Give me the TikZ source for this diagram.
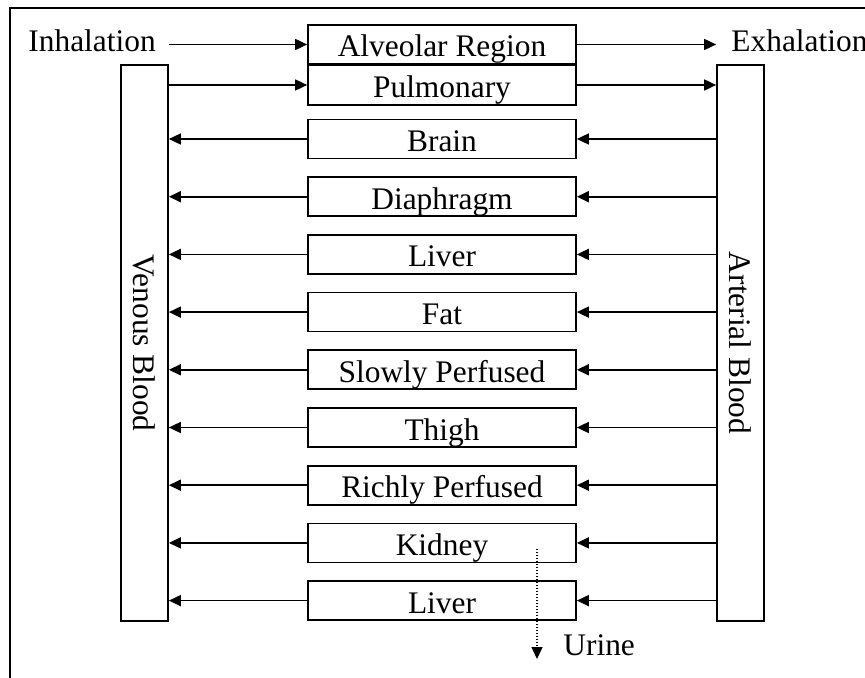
\documentclass[tikz,border=0pt]{standalone}
\usepackage{fontspec}
\setmainfont{Liberation Serif}
\usetikzlibrary{arrows.meta}
\begin{document}
\begin{tikzpicture}[x=0.5pt,y=-0.5pt,
  txt/.style={font=\fontsize{15.7}{18}\selectfont},
  organ/.style={draw, line width=0.85pt, minimum width=134pt, minimum height=19.5pt,
    inner sep=0pt, text height=14.5pt, text depth=2pt, txt},
  blood/.style={draw, line width=0.85pt, minimum width=23.5pt, minimum height=278pt, inner sep=0pt},
  lbl/.style={txt, inner sep=0pt},
  flow/.style={line width=0.85pt, -{Triangle[length=6pt,width=5.5pt]}},
  urineflow/.style={line width=0.65pt, dash pattern=on 0.7pt off 0.8pt, -{Triangle[length=6pt,width=5.5pt]}}
]
\useasboundingbox (0,0) rectangle (865,678);
\clip (0,0) rectangle (865,678);
\draw[line width=0.75pt] (10,8) rectangle (885,700);

% blood compartments
\node[blood] (ven) at (144.5,343) {};
\node[blood] (art) at (740.5,343) {};
\node[lbl, rotate=-90] (venl) at (ven.center) {Venous Blood};
\node[lbl, rotate=-90] (artl) at (art.center) {Arterial Blood};

% organ boxes
\node[organ] (alv) at (442,44.5) {Alveolar Region};
\node[organ, minimum height=20pt] (pul) at (442,85) {Pulmonary};
\node[organ] (brain) at (442,139) {Brain};
\node[organ] (dia) at (442,196.7) {Diaphragm};
\node[organ] (liv1) at (442,254.4) {Liver};
\node[organ] (fat) at (442,312.1) {Fat};
\node[organ] (slow) at (442,369.8) {Slowly Perfused};
\node[organ] (thigh) at (442,427.5) {Thigh};
\node[organ] (rich) at (442,485.2) {Richly Perfused};
\node[organ] (kid) at (442,542.9) {Kidney};
\node[organ] (liv2) at (442,600.6) {Liver};

% labels
\node[lbl, anchor=base west] (inh) at (28,52) {Inhalation};
\node[lbl, anchor=base west] (exh) at (731,52) {Exhalation};
\node[lbl, anchor=base west] (uri) at (563,655) {Urine};

% breathing
\draw[flow] (alv.west -| ven.east) -- (alv.west);
\draw[flow] (alv.east) -- (alv.east -| art.west);
\draw[flow] (pul.west -| ven.east) -- (pul.west);
\draw[flow] (pul.east) -- (pul.east -| art.west);

% circulation
\foreach \o in {brain,dia,liv1,fat,slow,thigh,rich,kid,liv2}{
  \draw[flow] (\o.east -| art.west) -- (\o.east);
  \draw[flow] (\o.west) -- (\o.west -| ven.east);
}

% urine
\coordinate (u1) at (537,549);
\coordinate (u2) at (537,659);
\draw[urineflow] (u1) -- (u2);
\end{tikzpicture}
\end{document}
